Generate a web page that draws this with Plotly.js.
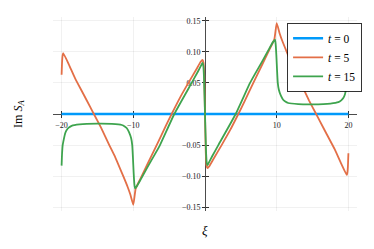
<!DOCTYPE html>
<html>
<head>
<meta charset="utf-8">
<script src="https://cdn.plot.ly/plotly-3.0.1.min.js"></script>
<style>html,body{margin:0;padding:0;background:#fff;}#chart{width:374px;height:249px;}</style>
</head>
<body>
<div id="chart"></div>
<script>
// ---- data ----
const seriesNames = ["<i>t</i> = 0", "<i>t</i> = 5", "<i>t</i> = 15"];

const xi_t0 = [-20, -10, 0, 10, 20];
const im_t0 = [0, 0, 0, 0, 0];

const xi_t5 = [-20, -19.93, -19.85, -19.77, -19, -18.1, -17, -16, -15.5, -14.5, -13.35, -12.5, -11.4, -10.8, -10.4, -10,
  -9.67, -9, -8, -6.74, -5.5, -4.65, -3.5, -2.32, -1.2, -0.6, -0.35, -0.2, -0.1, 0,
  0.1, 0.2, 0.35, 0.6, 1.2, 2.32, 3.5, 4.65, 5.5, 6.74, 8, 9, 9.67, 10,
  10.4, 10.8, 11.4, 12.5, 13.35, 14.5, 15.5, 16, 17, 18.1, 19, 19.77, 19.85, 19.93, 20];
const im_t5 = [0.063, 0.085, 0.095, 0.098, 0.080, 0.057, 0.033, 0.011, 0.000, -0.022, -0.050, -0.070, -0.100, -0.117, -0.130, -0.146,
  -0.120, -0.104, -0.080, -0.050, -0.020, 0.000, 0.026, 0.050, 0.072, 0.084, 0.087, 0.082, 0.060, 0.000,
  -0.060, -0.082, -0.087, -0.084, -0.072, -0.050, -0.026, 0.000, 0.020, 0.050, 0.080, 0.104, 0.120, 0.146,
  0.130, 0.117, 0.100, 0.070, 0.050, 0.022, 0.000, -0.011, -0.033, -0.057, -0.080, -0.098, -0.095, -0.085, -0.063];

const xi_t15 = [-20, -19.93, -19.85, -19.76, -19.5, -19.29, -19, -18.6, -17.5, -15, -13, -11.6, -11.2, -10.9, -10.6, -10.3, -10.15, -10.05, -9.95, -9.85, -9.76,
  -9.5, -9, -8, -7, -6.28, -4.28, -1.86, -1.0, -0.5, -0.35, -0.25, -0.15, 0,
  0.15, 0.25, 0.35, 0.5, 1.0, 1.86, 4.28, 6.28, 7, 8, 9, 9.5,
  9.76, 9.85, 9.95, 10.05, 10.15, 10.3, 10.6, 10.9, 11.2, 11.6, 13, 15, 17.5, 18.6, 19, 19.29, 19.5, 19.76, 19.85, 19.93, 20];
const im_t15 = [-0.083, -0.062, -0.050, -0.0445, -0.031, -0.0257, -0.022, -0.019, -0.0168, -0.0156, -0.016, -0.0177, -0.020, -0.023, -0.029, -0.039, -0.050, -0.070, -0.095, -0.113, -0.1195,
  -0.116, -0.106, -0.085, -0.065, -0.050, 0.000, 0.050, 0.068, 0.079, 0.082, 0.079, 0.062, 0.000,
  -0.062, -0.079, -0.082, -0.079, -0.068, -0.050, 0.000, 0.050, 0.065, 0.085, 0.106, 0.116,
  0.1195, 0.113, 0.095, 0.070, 0.050, 0.039, 0.029, 0.023, 0.020, 0.0177, 0.016, 0.0156, 0.0168, 0.019, 0.022, 0.0257, 0.031, 0.0445, 0.050, 0.062, 0.083];

const xTickVals = [-20, -10, 10, 20];
const xTickText = ["\u221220", "\u221210", "10", "20"];
const yTickVals = [-0.15, -0.10, -0.05, 0.05, 0.10, 0.15];
const yTickText = ["\u22120.15", "\u22120.10", "\u22120.05", "0.05", "0.10", "0.15"];

// ---- chart ----
const colors = ["#009AFA", "#E36F47", "#3EA44E"];
const serif = "'Liberation Serif', 'DejaVu Serif', serif";
const xr = [-21.2, 21.2];
const yr = [-0.156, 0.156];

const traces = [
  {x: xi_t0, y: im_t0, name: seriesNames[0], mode: "lines", line: {color: colors[0], width: 2.4}},
  {x: xi_t5, y: im_t5, name: seriesNames[1], mode: "lines", line: {color: colors[1], width: 1.8, shape: "spline", smoothing: 0.4}},
  {x: xi_t15, y: im_t15, name: seriesNames[2], mode: "lines", line: {color: colors[2], width: 1.8, shape: "spline", smoothing: 0.4}},
  {x: xi_t0, y: im_t0, xaxis: "x2", yaxis: "y2", mode: "lines", line: {width: 0}, opacity: 0, showlegend: false, hoverinfo: "skip"}
];

const axisCommon = {
  showline: true, linecolor: "rgba(0,0,0,0.7)", linewidth: 1, layer: "below traces",
  zeroline: false, gridcolor: "rgba(0,0,0,0.07)", gridwidth: 0.8,
  tickfont: {family: serif, size: 8, color: "#222"},
  ticks: "outside", ticklen: 3, tickcolor: "rgba(0,0,0,0.8)", tickwidth: 1
};

const layout = {
  width: 374, height: 249,
  margin: {l: 53, r: 17, t: 17, b: 38},
  paper_bgcolor: "#fff", plot_bgcolor: "#fff",
  font: {family: serif},
  showlegend: true,
  xaxis: Object.assign({}, axisCommon, {range: xr, tickvals: xTickVals, ticktext: xTickText, anchor: "free", position: (0 - yr[0]) / (yr[1] - yr[0])}),
  yaxis: Object.assign({}, axisCommon, {range: yr, tickvals: yTickVals, ticktext: yTickText, anchor: "free", position: (0 - xr[0]) / (xr[1] - xr[0])}),
  xaxis2: {range: xr, overlaying: "x", anchor: "free", position: (0 - yr[0]) / (yr[1] - yr[0]), showgrid: false, zeroline: false, showline: false, layer: "below traces",
    tickvals: xTickVals, showticklabels: false, ticks: "inside", ticklen: 3, tickcolor: "rgba(0,0,0,0.8)", tickwidth: 1},
  yaxis2: {range: yr, overlaying: "y", anchor: "free", position: (0 - xr[0]) / (xr[1] - xr[0]), showgrid: false, zeroline: false, showline: false, layer: "below traces",
    tickvals: yTickVals, showticklabels: false, ticks: "inside", ticklen: 3, tickcolor: "rgba(0,0,0,0.8)", tickwidth: 1},
  legend: {
    x: 0.77, y: 0.97, xanchor: "left", yanchor: "top",
    bgcolor: "#fff", bordercolor: "rgba(0,0,0,0.8)", borderwidth: 1,
    font: {family: serif, size: 11.5, color: "#000"},
    tracegroupgap: 0, itemwidth: 30
  },
  annotations: [
    {text: "<i>\u03be</i>", font: {family: serif, size: 13, color: "#000"}, xref: "x", x: 0, yref: "paper", y: -0.1, yanchor: "middle", showarrow: false},
    {text: "Im <i>S</i><sub><i>A</i></sub>", font: {family: serif, size: 12, color: "#000"}, textangle: -90,
     xref: "paper", x: -0.112, xanchor: "center", yref: "y", y: 0, yanchor: "middle", showarrow: false}
  ]
};

Plotly.newPlot("chart", traces, layout, {displayModeBar: false, staticPlot: true});
</script>
</body>
</html>
